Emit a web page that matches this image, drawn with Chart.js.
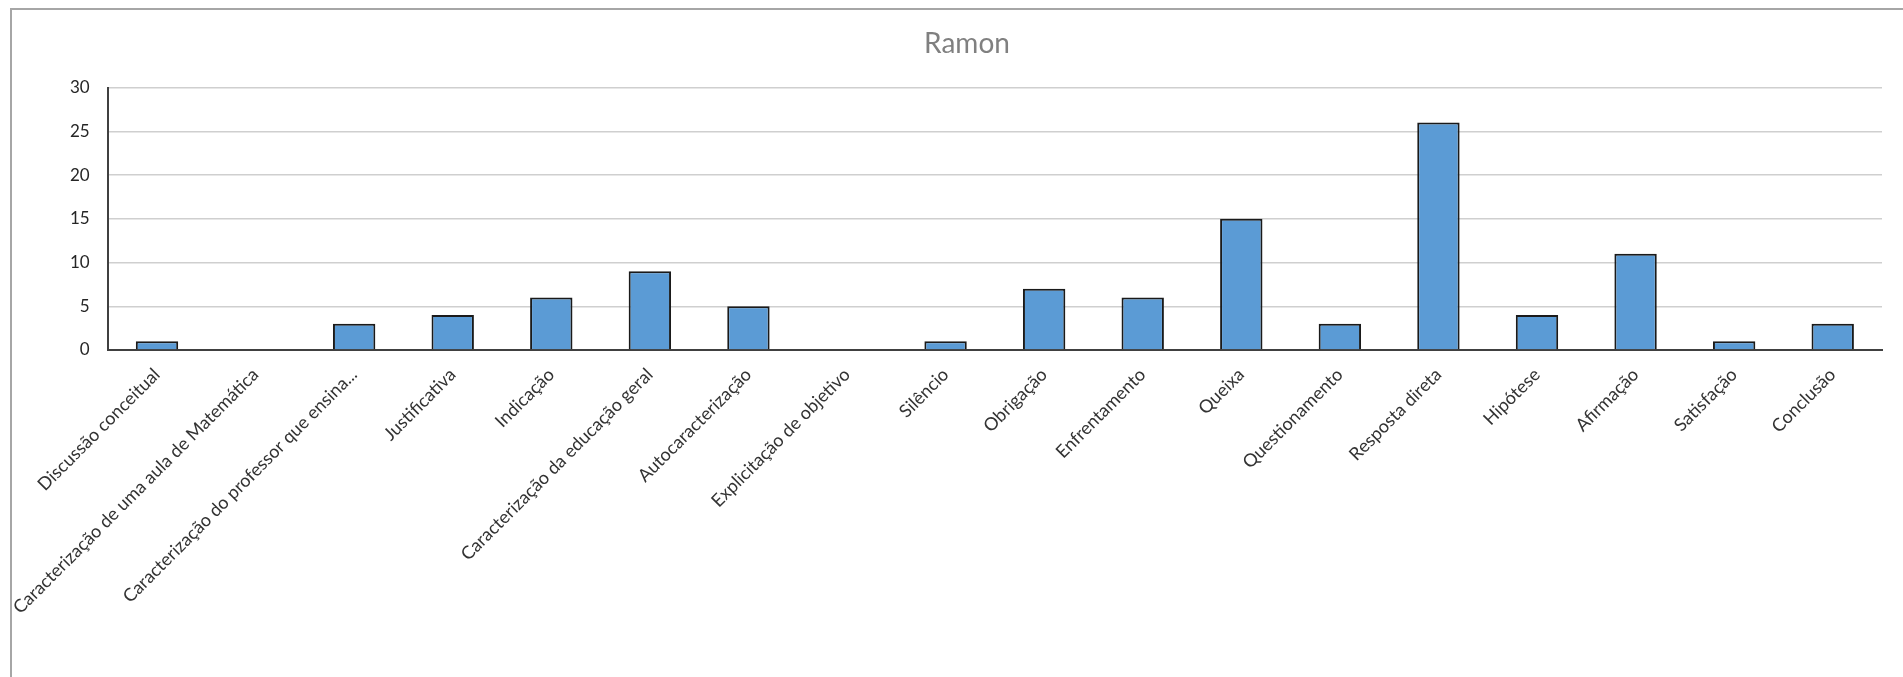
<!DOCTYPE html>
<html>
<head>
<meta charset="utf-8">
<title>Ramon</title>
<script src="https://cdn.jsdelivr.net/npm/chart.js@4.4.1/dist/chart.umd.min.js"></script>
<style>
    html, body { margin: 0; padding: 0; background: #fff; }
    #wrap { position: relative; width: 1903px; height: 677px; overflow: hidden; }
    #frame {
        position: absolute; left: 10px; top: 8px; right: -4px; bottom: -4px;
        border-left: 2px solid #a6a6a6; border-top: 2px solid #a6a6a6;
    }
    #myChart { position: absolute; left: 0; top: 0; }
</style>
</head>
<body>
<div id="wrap">
    <div id="frame"></div>
    <canvas id="myChart" width="1903" height="677"></canvas>
</div>
<script>
const categorias = [
    "Discussão conceitual",
    "Caracterização de uma aula de Matemática",
    "Caracterização do professor que ensina...",
    "Justificativa",
    "Indicação",
    "Caracterização da educação geral",
    "Autocaracterização",
    "Explicitação de objetivo",
    "Silêncio",
    "Obrigação",
    "Enfrentamento",
    "Queixa",
    "Questionamento",
    "Resposta direta",
    "Hipótese",
    "Afirmação",
    "Satisfação",
    "Conclusão",
];
const ocorrencias = [1, 0, 3, 4, 6, 9, 5, 0, 1, 7, 6, 15, 3, 26, 4, 11, 1, 3];
const ticksY = [0, 5, 10, 15, 20, 25, 30];

const fonte = "Lato, 'Open Sans', sans-serif";
const ctx = document.getElementById("myChart");

new Chart(ctx, {
    type: "bar",
    data: {
        labels: categorias,
        datasets: [{
            label: "Ramon",
            data: ocorrencias,
            backgroundColor: "#5b9bd5",
            borderColor: "#1a1a1a",
            borderWidth: 2,
            borderSkipped: "bottom",
            categoryPercentage: 1,
            barPercentage: 0.43,
        }, ],
    },
    options: {
        responsive: false,
        animation: false,
        layout: {
            padding: { left: 52, right: 21, top: 0, bottom: 0 },
        },
        plugins: {
            legend: { display: false },
            tooltip: { enabled: false },
            title: {
                display: true,
                text: "Ramon",
                color: "#808080",
                font: { family: fonte, size: 28, weight: "normal" },
                padding: { top: 27, bottom: 27 },
            },
        },
        scales: {
            x: {
                grid: { display: false },
                border: { color: "#404040", width: 2 },
                ticks: {
                    color: "#333333",
                    font: { family: fonte, size: 18 },
                    minRotation: 45,
                    maxRotation: 45,
                    autoSkip: false,
                    padding: 6,
                },
                afterFit: (scale) => { scale.height = 327; },
            },
            y: {
                min: ticksY[0],
                max: ticksY[ticksY.length - 1],
                afterBuildTicks: (scale) => {
                    scale.ticks = ticksY.map((v) => ({ value: v }));
                },
                grid: { color: "#cfcfcf", lineWidth: 1.5, drawTicks: false },
                border: { color: "#404040", width: 2 },
                ticks: {
                    color: "#262626",
                    font: { family: fonte, size: 17 },
                    padding: 18,
                },
            },
        },
    },
});
</script>
</body>
</html>
